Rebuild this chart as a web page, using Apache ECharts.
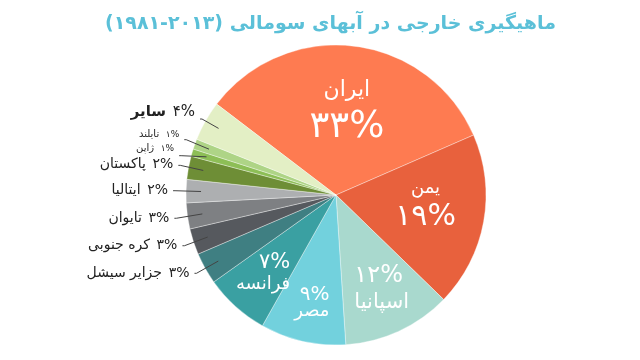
<!DOCTYPE html>
<html><head><meta charset="utf-8">
<script src="https://cdn.jsdelivr.net/npm/echarts@6/dist/echarts.min.js"></script>
<style>html,body{margin:0;padding:0;background:#fff}#c{width:640px;height:360px}</style>
</head><body><div id="c"></div>
<script>
const titleText = 'ماهیگیری خارجی در آبهای سومالی (۲۰۱۳-۱۹۸۱)';
const names = ['ایران','یمن','اسپانیا','مصر','فرانسه','جزایر سیشل','کره جنوبی','تایوان','ایتالیا','پاکستان','ژاپن','تایلند','سایر'];
// slice shares
const values = [33.1,18.8,11.7,9.2,7.0,3.4,2.8,2.8,2.5,2.5,0.8,1.1,4.3];
// percentages as printed on the chart
const pctLabels = [33,19,12,9,7,3,3,3,2,2,1,1,4];
const colors = ['#fe7b51','#e8613d','#a9d9ce','#72d1dd','#3aa0a2','#3f7f82','#56595e','#7e8083','#adafb1','#6e8e36','#8dbe56','#aed486','#e3efc5'];
const insideCount = 5;

function fa(n){return String(n).replace(/\d/g,d=>'۰۱۲۳۴۵۶۷۸۹'[+d]);}
const font = '"DejaVu Sans", sans-serif';

// inside labels: order of lines, font sizes, line heights [first, second]
const insideStyles = [
  {order:'nv', n:22, v:37, grp:0, align:'center', lh:[46,28]},
  {order:'nv', n:18, v:30, grp:0, align:'center', lh:[12,46]},
  {order:'vn', n:21, v:24, grp:1, align:'left', lh:[18,36]},
  {order:'vn', n:18, v:20, grp:1, align:'right', lh:[21,13]},
  {order:'vn', n:18, v:21, grp:1, align:'right', lh:[16,26]}
];
// outside labels: font size, leader length, lift
const outStyle = {
  5:{fs:14, len:25, lift:0},
  6:{fs:14, len:28, lift:0},
  7:{fs:14, len:31, lift:0},
  8:{fs:14, len:31, lift:0},
  9:{fs:14, len:28, lift:2},
  10:{fs:10, len:29, lift:14},
  11:{fs:10, len:28, lift:10},
  12:{fs:15, len:19, lift:14}
};
const clear = 'rgba(0,0,0,0)';
const START = 142.7;

const mainData = values.map((v,i)=>({name:names[i], value:v, itemStyle:{color:colors[i]}}));

const outData = values.map((v,i)=>{
  const item = {name:names[i], value:v, itemStyle:{color:clear}};
  if (i < insideCount) {
    item.label = {show:false}; item.labelLine = {show:false};
  } else {
    const s = outStyle[i];
    item.label = {show:true, formatter:'{n|'+names[i]+'}  {p|'+fa(pctLabels[i])+'%}',
      padding:[0,0,s.lift,0],
      rich:{n:{fontSize:s.fs, color:'#222', fontFamily:font, fontWeight: i===12?'bold':'normal'},
            p:{fontSize: s.fs===10?9:s.fs, color:'#222', fontFamily:font}}};
    item.labelLine = {length:s.len};
  }
  return item;
});

function insideData(grp){
  return values.map((v,i)=>{
    const item = {name:names[i], value:v, itemStyle:{color:clear}};
    if (i < insideCount && insideStyles[i].grp===grp) {
      const s = insideStyles[i];
      const p = fa(pctLabels[i])+'%';
      const nv = s.order==='nv';
      const fmt = nv ? '{n|'+names[i]+'}\n{v|'+p+'}' : '{v|'+p+'}\n{n|'+names[i]+'}';
      item.label = {show:true, position:'inside', formatter:fmt,
        rich:{n:{fontSize:s.n, color:'#fff', fontFamily:font, lineHeight:nv?s.lh[0]:s.lh[1], align:s.align},
              v:{fontSize:s.v, color:'#fff', fontFamily:font, lineHeight:nv?s.lh[1]:s.lh[0], align:s.align}}};
    } else {
      item.label = {show:false};
    }
    return item;
  });
}

const C = [336,195];
const chart = echarts.init(document.getElementById('c'), null, {renderer:'canvas'});
chart.setOption({
  animation:false,
  backgroundColor:'#fff',
  title:{text:titleText, left:100, top:10,
    textStyle:{color:'#5bc0d8', fontSize:19, fontWeight:'bold', fontFamily:font}},
  series:[
    {type:'pie', center:C, radius:[0,150], startAngle:START, clockwise:true,
     data:mainData, label:{show:false}, labelLine:{show:false},
     itemStyle:{borderColor:'rgba(255,255,255,0.6)', borderWidth:0.6}},
    {type:'pie', center:C, radius:[0,135], startAngle:START, clockwise:true, silent:true, z:3,
     data:outData, avoidLabelOverlap:true,
     label:{position:'outside', distanceToLabelLine:5},
     labelLine:{show:true, length:22, length2:2, lineStyle:{color:'#444', width:1}}},
    {type:'pie', center:C, radius:[0,176], startAngle:START, clockwise:true, silent:true, z:4,
     data:insideData(0), avoidLabelOverlap:false, labelLayout:{hideOverlap:false}, labelLine:{show:false}},
    {type:'pie', center:C, radius:[0,212], startAngle:START, clockwise:true, silent:true, z:4,
     data:insideData(1), avoidLabelOverlap:false, labelLayout:{hideOverlap:false}, labelLine:{show:false}}
  ]
});
</script></body></html>
